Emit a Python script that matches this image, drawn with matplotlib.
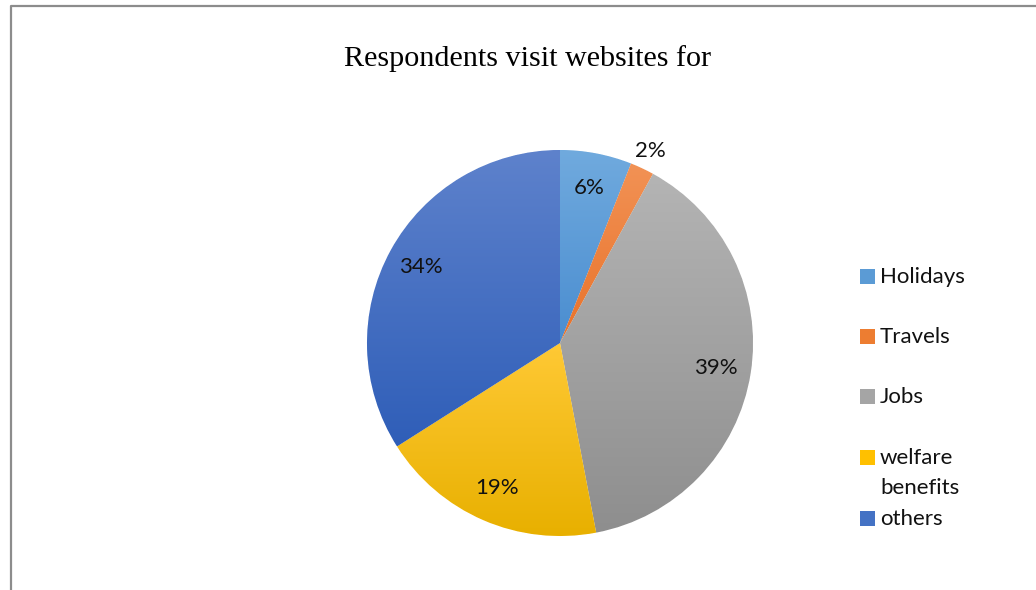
import numpy as np
import matplotlib.pyplot as plt
from matplotlib.colors import LinearSegmentedColormap
from matplotlib.patches import Rectangle
from matplotlib.lines import Line2D

categories = ['Holidays', 'Travels', 'Jobs', 'welfare\nbenefits', 'others']
shares = [6, 2, 39, 19, 34]
# (top, bottom) colours of each slice's vertical gradient
top_colors = ['#70aade', '#f29255', '#b4b4b4', '#ffc935', '#5e82cc']
bottom_colors = ['#4a8dd0', '#e8722a', '#8e8e8e', '#e8b000', '#2f5eb8']
mid_colors = ['#5b9bd5', '#ed7d31', '#a5a5a5', '#ffc000', '#4472c4']

W, H = 1036, 590
fig = plt.figure(figsize=(W / 100, H / 100), dpi=100)

label_font = 'Lato'

# pie centred at (560, 343) px, radius 193 px
cx, cy, r = 560, 343, 193
ax = fig.add_axes([(cx - r) / W, (H - cy - r) / H, 2 * r / W, 2 * r / H])
wedges, _ = ax.pie(shares, startangle=90, counterclock=False, radius=1,
                   colors=mid_colors,
                   wedgeprops=dict(linewidth=0.6, edgecolor='white'))

grad = np.linspace(0, 1, 256).reshape(-1, 1)
for w, top, bot in zip(wedges, top_colors, bottom_colors):
    bb = w.get_path().get_extents()
    cmap = LinearSegmentedColormap.from_list('g', [bot, top])
    im = ax.imshow(grad, cmap=cmap, origin='lower', aspect='auto',
                   extent=[bb.x0, bb.x1, bb.y0, bb.y1], zorder=1.5,
                   interpolation='bilinear')
    im.set_clip_path(w)

# percentage labels
for w, v in zip(wedges, shares):
    ang = np.deg2rad((w.theta1 + w.theta2) / 2)
    dist = 1.1 if v < 5 else 0.82
    ax.text(dist * np.cos(ang), dist * np.sin(ang), f'{v}%',
            ha='center', va='center', fontsize=16, family=label_font,
            color='#111111', zorder=3)

ax.set_xlim(-1, 1)
ax.set_ylim(-1, 1)
ax.axis('off')

fig.text(528 / W, 1 - 59 / H, 'Respondents visit websites for',
         ha='center', va='center', fontsize=21.7, family='Liberation Serif',
         color='black')

# legend: one row every 60 px, wrapped labels continue 30 px lower
rows = [277, 337, 397, 458, 519]
for name, col, y in zip(categories, mid_colors, rows):
    fig.patches.append(Rectangle((860 / W, 1 - (y + 7) / H), 15 / W, 15 / H,
                                 transform=fig.transFigure, facecolor=col,
                                 edgecolor='none'))
    for i, line in enumerate(name.split('\n')):
        fig.text(880 / W, 1 - (y + 30 * i) / H, line, ha='left', va='center',
                 fontsize=16, family=label_font, color='#111111')

# frame round the chart area
fig.lines.append(Line2D([10.5 / W, 10.5 / W, 1.0], [0.0, 1 - 5.5 / H, 1 - 5.5 / H],
                        transform=fig.transFigure, color='#8c8c8c', linewidth=1.6))

fig.savefig('out.png', dpi=100)
